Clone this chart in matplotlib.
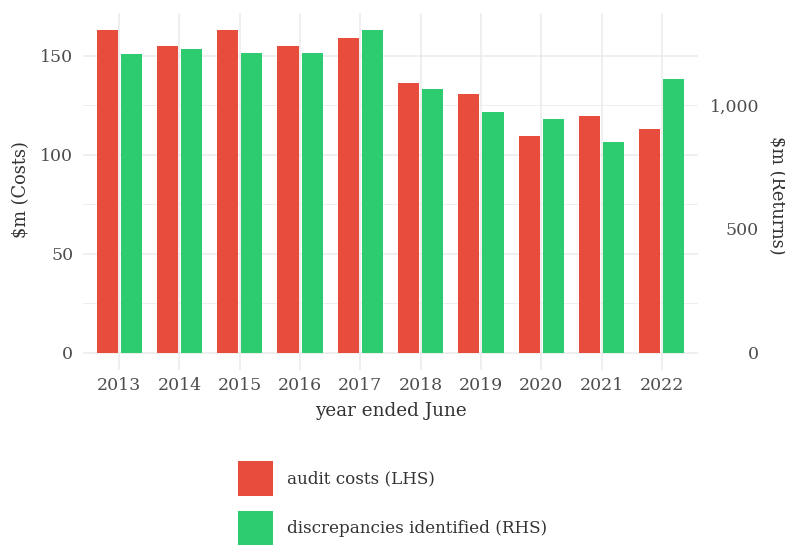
import matplotlib
matplotlib.use("Agg")
import matplotlib.pyplot as plt
import matplotlib.ticker as mticker
from matplotlib.patches import Patch
import numpy as np

years = ["2013", "2014", "2015", "2016", "2017", "2018", "2019", "2020", "2021", "2022"]
audit_costs = [162.9, 154.8, 162.9, 154.8, 158.8, 136.3, 130.4, 109.5, 119.6, 112.9]      # $m, LHS
discrepancies = [1205, 1225, 1211, 1211, 1303, 1063, 970, 943, 849, 1104]             # $m, RHS
rhs_scale = 8  # RHS value = LHS value * 8

red = "#E74C3C"
green = "#2ECC71"
grid_col = "#EBEBEB"

plt.rcParams["font.family"] = ["DejaVu Serif"]

W, H = 785, 545
fig = plt.figure(figsize=(W / 100, H / 100), dpi=100)
# panel box in pixels: left 83, right 698, top 13, bottom 370
ax = fig.add_axes([83 / W, (H - 370) / H, (698 - 83) / W, (370 - 13) / H])

x = np.arange(len(years))
ax.bar(x - 0.2, audit_costs, width=0.35, color=red, zorder=3)
ax.bar(x + 0.2, np.array(discrepancies) / rhs_scale, width=0.35, color=green, zorder=3)

ax.set_xlim(-0.6, len(years) - 0.4)
ax.set_ylim(-8.8, 171.5)
ax.set_xticks(x)
ax.set_xticklabels(years)
ax.set_yticks([0, 50, 100, 150])
ax.set_yticks([25, 75, 125], minor=True)

ax.grid(True, which="major", color=grid_col, linewidth=1.1, zorder=0)
ax.grid(True, which="minor", axis="y", color=grid_col, linewidth=0.6, zorder=0)
for s in ax.spines.values():
    s.set_visible(False)
ax.tick_params(which="both", length=0)
ax.tick_params(axis="y", labelsize=12.5, labelcolor="#4D4D4D", pad=7)
ax.tick_params(axis="x", labelsize=12.5, labelcolor="#4D4D4D", pad=5)

sec = ax.secondary_yaxis("right", functions=(lambda v: v * rhs_scale, lambda v: v / rhs_scale))
sec.set_yticks([0, 500, 1000])
sec.yaxis.set_major_formatter(mticker.FuncFormatter(lambda v, p: f"{int(v):,}"))
sec.tick_params(length=0, labelsize=12.5, labelcolor="#4D4D4D", pad=44)
for lab in sec.get_yticklabels():
    lab.set_horizontalalignment("right")
for s in sec.spines.values():
    s.set_visible(False)

fig.text(21 / W, 1 - 190 / H, "$m (Costs)", rotation=90, ha="center", va="center",
         fontsize=12.8, color="#333333")
fig.text(777 / W, 1 - 195 / H, "$m (Returns)", rotation=270, ha="center", va="center",
         fontsize=12.8, color="#333333")
fig.text(391 / W, 1 - 411 / H, "year ended June", ha="center", va="center",
         fontsize=13.2, color="#333333")

handles = [Patch(facecolor=red, label="audit costs (LHS)"),
           Patch(facecolor=green, label="discrepancies identified (RHS)")]
fig.legend(handles=handles, loc="upper left", bbox_to_anchor=(238 / W, 1 - 461 / H),
           frameon=False, fontsize=12.1, handlelength=2.1, handleheight=2.85,
           labelspacing=0.87, handletextpad=0.8, borderpad=0, borderaxespad=0,
           labelcolor="#333333")

fig.savefig("out.png", dpi=100)
